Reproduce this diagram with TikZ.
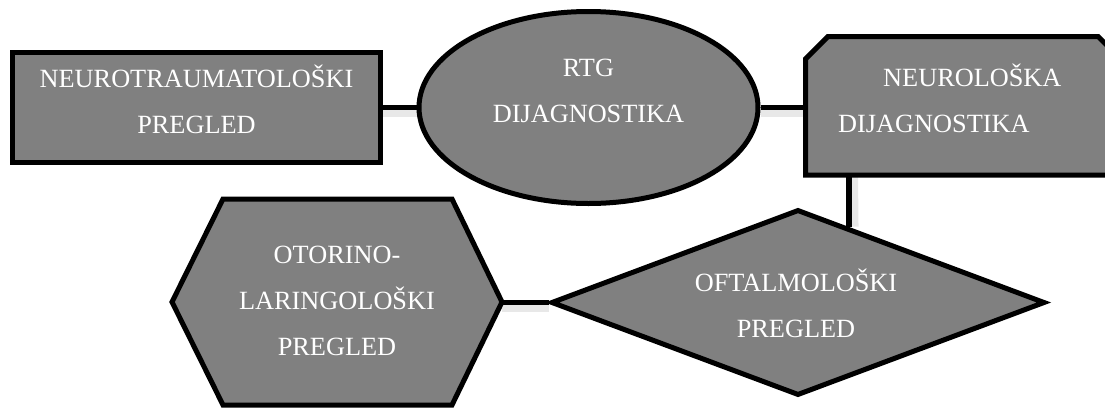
\documentclass[tikz,border=0pt]{standalone}
\usepackage{fontspec}
\setmainfont{Liberation Serif}
\usetikzlibrary{positioning}
\usetikzlibrary{shapes.geometric}
\usetikzlibrary{calc}
\usetikzlibrary{backgrounds}
\tikzset{bx/.style={draw=black,fill=gray,line width=5pt,line join=miter,inner sep=0pt}}
\tikzset{lb/.style={text=white,inner sep=0pt,font=\fontsize{26.3}{46}\selectfont}}
\tikzset{ln/.style={line width=5.5pt}}
\tikzset{shd/.style={line width=8pt,draw=black!9}}

\begin{document}
\begin{tikzpicture}[x=1pt,y=-1pt]
\useasboundingbox (0,0) rectangle (1105,407);
\clip (0,0) rectangle (1105,407);

\node[bx,rectangle,minimum width=368,minimum height=110] (ntp) at (196.5,107.5) {};
\node[bx,ellipse,minimum width=339,minimum height=192] (rtg) at (588.5,107.5) {};
\node[bx,diamond,minimum width=494,minimum height=186] (ofp) at (798,302.5) {};

% box with both top corners cut
\draw[bx] (805.5,175) -- (805.5,59) -- (828,36.5) -- (1098,36.5) -- (1121,59) -- (1121,175) -- cycle;
\coordinate (nd-w) at (805.5,107.5);
\coordinate (nd-s) at (849,175);

% hexagon
\draw[bx] (172,302) -- (223,199) -- (452,199) -- (502,302) -- (452,405) -- (223,405) -- cycle;
\coordinate (olp-e) at (502,302.5);

\coordinate (ofp-ne) at ($(ofp.north)!0.2065!(ofp.east)$);

\begin{scope}[on background layer]
\draw[shd] ([yshift=-5pt]ntp.east) -- ([yshift=-5pt]rtg.west);
\draw[shd] ([yshift=-5pt]rtg.east) -- ([yshift=-5pt]nd-w);
\draw[shd] ([xshift=5pt]nd-s) -- ([xshift=5pt]ofp-ne);
\draw[shd] ([yshift=-5pt]olp-e) -- ([yshift=-5pt]ofp.west);
\end{scope}

\draw[ln] (ntp.east) -- (rtg.west);
\draw[ln] (rtg.east) -- (nd-w);
\draw[ln] (nd-s) -- (nd-s |- ofp-ne);
\draw[ln] (olp-e) -- (ofp.west);

\node[lb,align=center,anchor=base] (ntp-t) at (196.5,133) {NEUROTRAUMATOLOŠKI\\PREGLED};
\node[lb,align=center,anchor=base] (rtg-t) at (588.5,122) {RTG\\DIJAGNOSTIKA};
\node[lb,align=left,anchor=base west] (nd-t) at (838,132) {\hspace*{45pt}NEUROLOŠKA\\DIJAGNOSTIKA};
\node[lb,align=center,anchor=base] (olp-t) at (337,355) {OTORINO-\\LARINGOLOŠKI\\PREGLED};
\node[lb,align=center,anchor=base] (ofp-t) at (796,337) {OFTALMOLOŠKI\\PREGLED};

\end{tikzpicture}
\end{document}
